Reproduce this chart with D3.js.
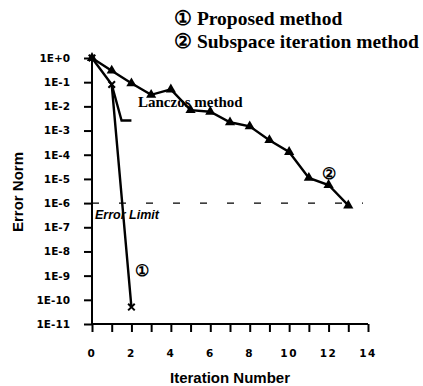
<!DOCTYPE html>
<html>
<head>
<meta charset="utf-8">
<script src="https://cdn.jsdelivr.net/npm/d3@7"></script>
<style>
body { margin: 0; background: #fff; }
</style>
</head>
<body>
<script>
// Error norm vs iteration number

var iterSubspace = [0, 1, 2, 3, 4, 5, 6, 7, 8, 9, 10, 11, 12, 13];
var errSubspace = [1, 3e-1, 9e-2, 3e-2, 5e-2, 7e-3, 6e-3, 2.2e-3, 1.5e-3, 4e-4, 1.3e-4, 1.1e-5, 5.6e-6, 8e-7];

var iterProposed = [0, 1, 2];
var errProposed = [1, 8e-2, 5e-11];

var iterLanczos = [1, 1.5, 2];
var errLanczos = [8e-2, 2.6e-3, 2.6e-3];

var errorLimit = 1e-6;

var xTicks = [0, 2, 4, 6, 8, 10, 12, 14];
var yTicks = [1, 1e-1, 1e-2, 1e-3, 1e-4, 1e-5, 1e-6, 1e-7, 1e-8, 1e-9, 1e-10, 1e-11];
var yTickLabels = ["1E+0", "1E-1", "1E-2", "1E-3", "1E-4", "1E-5", "1E-6", "1E-7", "1E-8", "1E-9", "1E-10", "1E-11"];

var width = 423, height = 386;
var mLeft = 92, mRight = 368, mTop = 58, mBottom = 324;

var svg = d3.select("body").append("svg")
	.attr("width", width)
	.attr("height", height);

var x = d3.scaleLinear().domain([0, 14]).range([mLeft, mRight]);
var y = d3.scaleLog().domain([1e-11, 1]).range([mBottom, mTop]);

var tickFont = "bold 10.5px 'DejaVu Sans', sans-serif";
var titleFont = "bold 15px 'Liberation Sans Narrow', 'Liberation Sans', sans-serif";
var serif = "'Liberation Serif', 'Times New Roman', serif";

// axes
var xAxis = d3.axisBottom(x)
	.tickValues(d3.range(0, 15))
	.tickSize(8)
	.tickFormat("");
svg.append("g")
	.attr("transform", "translate(0," + mBottom + ")")
	.call(xAxis)
	.call(g => g.select(".domain").attr("stroke-width", 2).attr("d", "M" + mLeft + ",0H" + mRight))
	.call(g => g.selectAll(".tick line").attr("stroke-width", 2));

svg.append("g")
	.selectAll("text")
	.data(xTicks)
	.enter()
	.append("text")
	.attr("x", d => x(d))
	.attr("y", 357)
	.attr("text-anchor", "middle")
	.style("font", tickFont)
	.style("letter-spacing", "1.5px")
	.text(d => d);

var yAxis = d3.axisLeft(y)
	.tickValues(yTicks)
	.tickSize(8)
	.tickPadding(14)
	.tickFormat((d, i) => yTickLabels[i]);
svg.append("g")
	.attr("transform", "translate(" + mLeft + ",0)")
	.call(yAxis)
	.call(g => g.select(".domain").attr("stroke-width", 2).attr("d", "M0," + mTop + "V" + mBottom))
	.call(g => g.selectAll(".tick line").attr("stroke-width", 2))
	.call(g => g.selectAll(".tick text")
		.style("font", tickFont)
		.attr("fill", "#000"));

// axis titles
svg.append("text")
	.attr("transform", "translate(23,192) rotate(-90)")
	.attr("text-anchor", "middle")
	.style("font", titleFont)
	.text("Error Norm");

svg.append("text")
	.attr("x", 230)
	.attr("y", 383)
	.attr("text-anchor", "middle")
	.style("font", titleFont)
	.text("Iteration Number");

// error limit
svg.append("line")
	.attr("x1", x(0)).attr("x2", 363)
	.attr("y1", y(errorLimit)).attr("y2", y(errorLimit))
	.attr("stroke", "#000")
	.attr("stroke-width", 1.2)
	.attr("stroke-dasharray", "7,20");

svg.append("text")
	.attr("x", 95)
	.attr("y", 219)
	.style("font", "italic bold 12.5px 'Liberation Sans', sans-serif")
	.text("Error Limit");

var line = d3.line()
	.x(d => x(d[0]))
	.y(d => y(d[1]));

function drawLine(xs, ys){
	svg.append("path")
		.datum(xs.map((d, i) => [d, ys[i]]))
		.attr("d", line)
		.attr("fill", "none")
		.attr("stroke", "#000")
		.attr("stroke-width", 2.4);
}

drawLine(iterLanczos, errLanczos);
drawLine(iterProposed, errProposed);
drawLine(iterSubspace, errSubspace);

// triangle markers
svg.append("g")
	.selectAll("path")
	.data(iterSubspace)
	.enter()
	.append("path")
	.attr("transform", (d, i) => "translate(" + x(d) + "," + y(errSubspace[i]) + ")")
	.attr("d", d3.symbol().type(d3.symbolTriangle).size(45));

// star markers
svg.append("g")
	.selectAll("path")
	.data(iterProposed)
	.enter()
	.append("path")
	.attr("transform", (d, i) => "translate(" + x(d) + "," + y(errProposed[i]) + ")")
	.attr("d", d3.symbol().type(d3.symbolTimes).size(30))
	.attr("stroke", "#000")
	.attr("stroke-width", 2);

// annotations
svg.append("text")
	.attr("x", 138)
	.attr("y", 107)
	.style("font", "bold 15px " + serif)
	.text("Lanczos method");

svg.append("text")
	.attr("x", 135)
	.attr("y", 276)
	.style("font", "bold 16px " + serif)
	.text("\u2460");

svg.append("text")
	.attr("x", 322)
	.attr("y", 179)
	.style("font", "bold 16px " + serif)
	.text("\u2461");

// legend
svg.append("text")
	.attr("x", 174)
	.attr("y", 25)
	.style("font", "bold 19.5px " + serif)
	.text("\u2460 Proposed method");

svg.append("text")
	.attr("x", 174)
	.attr("y", 48)
	.style("font", "bold 19.5px " + serif)
	.text("\u2461 Subspace iteration method");
</script>
</body>
</html>
